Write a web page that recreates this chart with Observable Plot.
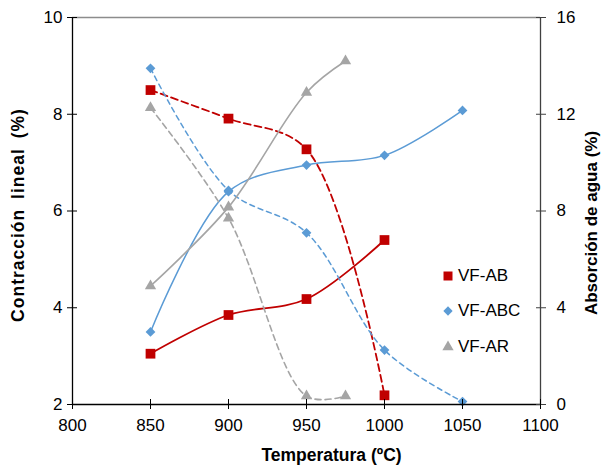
<!DOCTYPE html>
<html><head><meta charset="utf-8">
<script src="https://cdn.jsdelivr.net/npm/d3@7"></script>
<script src="https://cdn.jsdelivr.net/npm/@observablehq/plot@0.6"></script>
<style>
body{margin:0;background:#fff}
#wrap{position:relative;width:602px;height:469px;font-family:"Liberation Sans",Arial,sans-serif}
#wrap svg.plot{position:absolute;left:0;top:0}
#legend{position:absolute;left:441px;top:258px;font-size:17px;color:#000}
.row{display:flex;align-items:center;height:35.5px}
.row svg{margin-right:3px}
</style></head><body><div id="wrap"></div>
<script>
// Series
const seriesNames = ["VF-AB", "VF-ABC", "VF-AR"];
const seriesColors = ["#C00000", "#5B9BD5", "#A5A5A5"];
const seriesSymbols = ["square", "diamond2", "triangle"];
const seriesDash = ["7,4", "5,4", "6,4"];
const seriesWidth = [1.8, 1.5, 1.6];

// Temperatures (ºC)
const tempAB = [850, 900, 950, 1000];
const tempABC = [850, 900, 950, 1000, 1050];
const tempAR = [850, 900, 950, 975];

// Contracción lineal (%) — left axis
const contrAB = [3.05, 3.85, 4.18, 5.40];
const contrABC = [3.50, 6.40, 6.95, 7.15, 8.08];
const contrAR = [4.45, 6.08, 8.45, 9.10];

// Absorción de agua (%) — right axis
const absAB = [13.0, 11.82, 10.55, 0.38];
const absABC = [13.9, 8.85, 7.1, 2.25, 0.12];
const absAR = [12.27, 7.7, 0.35, 0.35];

// Ticks
const xTicks = [800, 850, 900, 950, 1000, 1050, 1100];
const yTicksLeft = [2, 4, 6, 8, 10];
const yTicksRight = [0, 4, 8, 12, 16];

const xTitle = "Temperatura (ºC)";
const yLeftTitle = "Contracción lineal (%)";
const yRightTitle = "Absorción de agua (%)";

// right axis [0,16] mapped onto left scale [2,10]
const toLeft = v => 2 + v / 2;
const fromLeft = d => Math.round((d - 2) * 2);

const temps = [tempAB, tempABC, tempAR];
const contrs = [contrAB, contrABC, contrAR];
const abss = [absAB, absABC, absAR];

const contrRows = [], absRows = [];
seriesNames.forEach((s, i) => {
  temps[i].forEach((t, j) => {
    contrRows.push({s, i, t, y: contrs[i][j]});
    absRows.push({s, i, t, y: toLeft(abss[i][j])});
  });
});

const font = "Liberation Sans, Arial, sans-serif";
const marks = [];
// frame lines
marks.push(Plot.ruleY([10], {stroke: "#8c8c8c", strokeWidth: 1.3}));
marks.push(Plot.ruleX([1100], {stroke: "#404040", strokeWidth: 1.3}));
// lines
seriesNames.forEach((s, i) => {
  marks.push(Plot.line(absRows.filter(d => d.i === i), {x: "t", y: "y", curve: "catmull-rom",
    stroke: seriesColors[i], strokeWidth: seriesWidth[i], strokeDasharray: seriesDash[i]}));
  marks.push(Plot.line(contrRows.filter(d => d.i === i), {x: "t", y: "y", curve: "catmull-rom",
    stroke: seriesColors[i], strokeWidth: seriesWidth[i]}));
});
// markers
seriesNames.forEach((s, i) => {
  const r = i === 0 ? 5.5 : i === 1 ? 4.4 : 4.2;
  marks.push(Plot.dot(absRows.filter(d => d.i === i), {x: "t", y: "y", symbol: seriesSymbols[i], r, fill: seriesColors[i], stroke: "none"}));
  marks.push(Plot.dot(contrRows.filter(d => d.i === i), {x: "t", y: "y", symbol: seriesSymbols[i], r, fill: seriesColors[i], stroke: "none"}));
});
// axis lines
marks.push(Plot.ruleX([800], {stroke: "#000", strokeWidth: 1.3}));
marks.push(Plot.ruleY([2], {stroke: "#000", strokeWidth: 1.3}));
// ticks (crossing) and labels
marks.push(Plot.axisY({anchor: "left", ticks: yTicksLeft, tickSize: 10, dx: 5, stroke: "#000", fill: "none", label: null}));
marks.push(Plot.axisY({anchor: "left", ticks: yTicksLeft, tickSize: 0, tickPadding: 10, fontSize: 17, fill: "#000", label: null}));
marks.push(Plot.axisY({anchor: "right", ticks: yTicksRight.map(toLeft), tickSize: 10, dx: -5, stroke: "#404040", fill: "none", label: null}));
marks.push(Plot.axisY({anchor: "right", ticks: yTicksRight.map(toLeft), tickFormat: fromLeft, tickSize: 0, tickPadding: 16, fontSize: 17, fill: "#000", label: null}));
marks.push(Plot.axisX({anchor: "bottom", ticks: xTicks, tickSize: 10, dy: -5, stroke: "#000", fill: "none", label: null}));
marks.push(Plot.axisX({anchor: "bottom", ticks: xTicks, tickFormat: d => String(d), tickSize: 0, tickPadding: 14, fontSize: 17, fill: "#000", label: null}));
// titles
marks.push(Plot.text([yLeftTitle], {frameAnchor: "left", textAnchor: "middle", dx: -54, dy: 4, rotate: -90, fontWeight: "bold", fontSize: 17.5, fill: "#000", className: "ltitle"}));
marks.push(Plot.text([yRightTitle], {frameAnchor: "right", textAnchor: "middle", dx: 51, dy: 12, rotate: -90, fontWeight: "bold", fontSize: 17, fill: "#000"}));
marks.push(Plot.text([xTitle], {frameAnchor: "bottom", dy: 56, dx: 25, fontWeight: "bold", fontSize: 17.5, fill: "#000"}));

const chart = Plot.plot({
  width: 602, height: 469,
  marginLeft: 72, marginRight: 62, marginTop: 17, marginBottom: 65,
  x: {domain: [800, 1100]},
  y: {domain: [2, 10]},
  style: {fontFamily: font, fontSize: "17px", background: "#fff", overflow: "visible"},
  marks
});
chart.classList.add("plot");
const lt = chart.querySelector("g.ltitle text");
if (lt) { lt.style.wordSpacing = "4px"; lt.style.letterSpacing = "1px"; }
const wrap = document.getElementById("wrap");
wrap.appendChild(chart);

// legend
const legend = document.createElement("div");
legend.id = "legend";
const symPaths = {
  square: d3.symbol(d3.symbolSquare, 81)(),
  diamond2: d3.symbol(d3.symbolDiamond2, 55)(),
  triangle: d3.symbol(d3.symbolTriangle, 55)()
};
seriesNames.forEach((s, i) => {
  const row = document.createElement("div");
  row.className = "row";
  row.innerHTML = `<svg width="14" height="14" viewBox="-7 -7 14 14"><path d="${symPaths[seriesSymbols[i]]}" fill="${seriesColors[i]}"/></svg><span>${s}</span>`;
  legend.appendChild(row);
});
wrap.appendChild(legend);
</script></body></html>
